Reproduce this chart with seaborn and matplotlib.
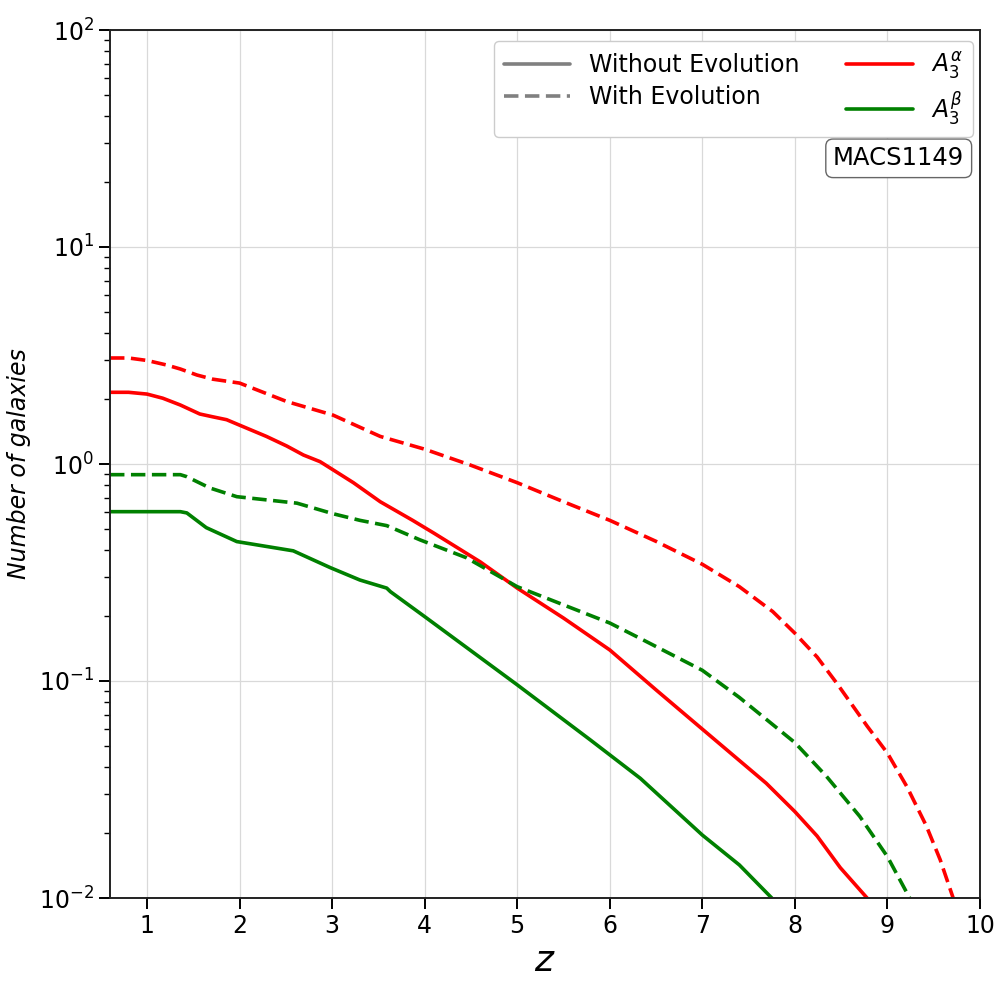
import numpy as np
import pandas as pd
import matplotlib
matplotlib.use("Agg")
import matplotlib.pyplot as plt
import seaborn as sns
from matplotlib.lines import Line2D

# values (z, number of galaxies)
z_red_solid = [0.6, 0.8, 1.0, 1.17, 1.36, 1.57, 1.71, 1.86, 2.0, 2.29, 2.51, 2.69, 2.87, 3.01,
               3.23, 3.52, 3.87, 4.1, 4.6, 5.0, 5.5, 6.0, 6.5, 7.0, 7.69, 8.0, 8.24, 8.49, 8.78]
n_red_solid = [2.14, 2.14, 2.10, 2.01, 1.87, 1.70, 1.65, 1.60, 1.51, 1.34, 1.21, 1.10, 1.025, 0.94,
               0.82, 0.67, 0.55, 0.48, 0.354, 0.268, 0.195, 0.139, 0.091, 0.060, 0.0338, 0.025, 0.0193, 0.0138, 0.01]

z_red_dash = [0.6, 0.8, 1.0, 1.21, 1.36, 1.54, 1.71, 2.0, 2.51, 3.01, 3.52, 4.0, 4.49, 5.0, 5.5,
              6.0, 6.5, 7.0, 7.4, 7.76, 8.0, 8.24, 8.45, 8.78, 9.0, 9.21, 9.42, 9.57, 9.71]
n_red_dash = [3.08, 3.08, 3.0, 2.86, 2.74, 2.57, 2.46, 2.36, 1.94, 1.68, 1.34, 1.17, 0.99, 0.82, 0.67,
              0.55, 0.44, 0.345, 0.272, 0.209, 0.166, 0.129, 0.098, 0.062, 0.0465, 0.0326, 0.0215, 0.015, 0.01]

z_green_dash = [0.6, 1.0, 1.36, 1.43, 1.68, 1.97, 2.62, 3.01, 3.3, 3.59, 3.95, 4.45, 5.0, 6.0,
                6.33, 7.0, 7.4, 8.0, 8.34, 8.7, 9.0, 9.24]
n_green_dash = [0.893, 0.893, 0.893, 0.874, 0.775, 0.707, 0.66, 0.59, 0.55, 0.52, 0.447, 0.37, 0.272, 0.185,
                0.157, 0.112, 0.084, 0.052, 0.0364, 0.0238, 0.0155, 0.01]

z_green_solid = [0.6, 1.0, 1.36, 1.43, 1.64, 1.97, 2.58, 2.98, 3.3, 3.59, 3.63, 4.0, 5.0, 5.79,
                 6.33, 7.0, 7.4, 7.75]
n_green_solid = [0.603, 0.603, 0.603, 0.595, 0.509, 0.439, 0.398, 0.333, 0.292, 0.268, 0.258, 0.198, 0.096, 0.0535,
                 0.0356, 0.0195, 0.0142, 0.01]

x_ticks = [1, 2, 3, 4, 5, 6, 7, 8, 9, 10]

sns.set_style("ticks")
plt.rcParams['font.family'] = ['DejaVu Sans']
plt.rcParams.update({"text.color": "black", "axes.labelcolor": "black",
                     "xtick.color": "black", "ytick.color": "black"})

fig = plt.figure(figsize=(10, 10), dpi=100)
ax = fig.add_axes([0.11, 0.102, 0.87, 0.868])

series = [
    (z_red_solid, n_red_solid, "red", "-"),
    (z_red_dash, n_red_dash, "red", "--"),
    (z_green_solid, n_green_solid, "green", "-"),
    (z_green_dash, n_green_dash, "green", "--"),
]
for zs, ns, col, ls in series:
    df = pd.DataFrame({"z": zs, "n": ns})
    line_kw = dict(color=col, linewidth=2.6)
    if ls == "--":
        line_kw["dashes"] = (4.0, 1.8)
    sns.lineplot(data=df, x="z", y="n", ax=ax, estimator=None, sort=True, **line_kw)

ax.set_yscale("log")
ax.set_xlim(0.6, 10)
ax.set_ylim(1e-2, 1e2)
ax.set_xticks(x_ticks)
ax.grid(True, which="major", color="#d9d9d9", linewidth=0.9)
ax.set_axisbelow(True)

ax.tick_params(axis="both", which="major", labelsize=17, length=8, width=1.4, direction="out")
ax.tick_params(axis="both", which="minor", length=4, width=1.0, direction="out")
for sp in ax.spines.values():
    sp.set_linewidth(1.4)
    sp.set_color("#222222")

ax.set_xlabel("$z$", fontsize=26, labelpad=4)
ax.set_ylabel("Number of galaxies", fontsize=17, fontstyle="italic", labelpad=6)

handles = [
    Line2D([], [], color="gray", linestyle="-", linewidth=2.6),
    Line2D([], [], color="gray", linestyle="--", linewidth=2.6, dashes=(4.0, 1.8)),
    Line2D([], [], color="red", linestyle="-", linewidth=2.6),
    Line2D([], [], color="green", linestyle="-", linewidth=2.6),
]
labels = ["Without Evolution", "With Evolution", r"$A_3^{\alpha}$", r"$A_3^{\beta}$"]
ax.legend(handles, labels, loc="upper right", ncol=2, fontsize=17, frameon=True,
          fancybox=True, framealpha=1.0, edgecolor="#cccccc", columnspacing=2.0,
          handlelength=2.8, labelspacing=0.35, bbox_to_anchor=(0.997, 0.993), borderaxespad=0.2)

ax.text(0.982, 0.866, "MACS1149", transform=ax.transAxes, ha="right", va="top", fontsize=17.5,
        bbox=dict(boxstyle="round,pad=0.3", facecolor="white", edgecolor="#666666", linewidth=1.0))

fig.savefig("out.png", dpi=100)
